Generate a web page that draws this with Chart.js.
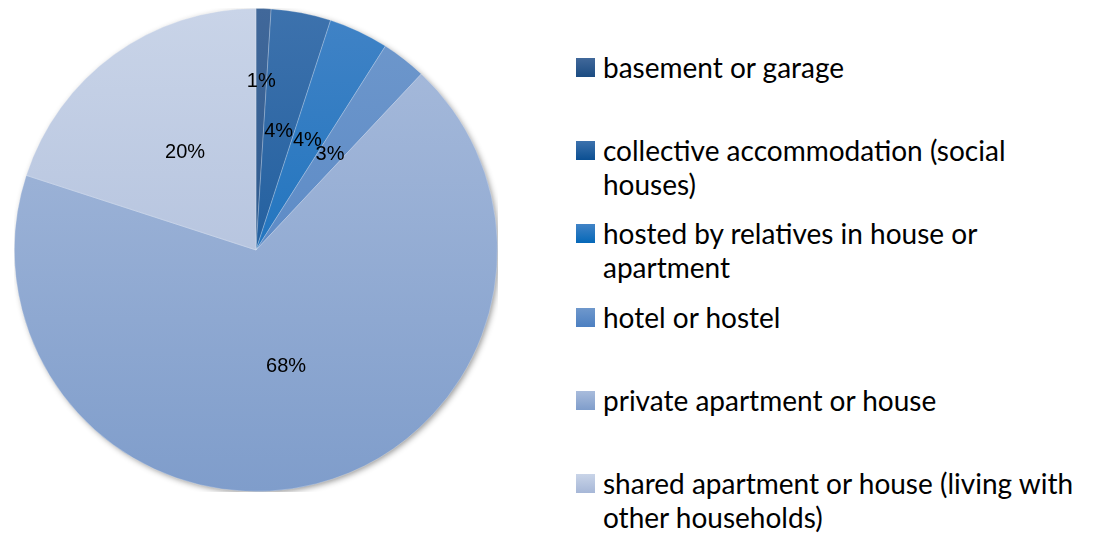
<!DOCTYPE html>
<html lang="en">
<head>
    <meta charset="UTF-8">
    <title>Accommodation</title>
    <script src="https://cdn.jsdelivr.net/npm/chart.js@4"></script>
    <style>
        body { margin: 0; background: #fff; width: 1115px; height: 537px; position: relative; overflow: hidden; }
        #pieBox { position: absolute; left: 14px; top: 8px; width: 484px; height: 484px; }
        #legend { position: absolute; left: 576px; top: 50px; font-family: Lato, "Open Sans", sans-serif; font-size: 28px; color: #000; }
        .item { position: relative; height: 83.2px; padding-left: 27px; line-height: 34px; white-space: nowrap; }
        .swatch { position: absolute; left: 0; top: 8px; width: 19px; height: 19px; }
    </style>
</head>
<body>
    <div id="pieBox"><canvas id="pie"></canvas></div>
    <div id="legend"></div>

    <script>
        const categories = [
            'basement or garage',
            'collective accommodation (social houses)',
            'hosted by relatives in house or apartment',
            'hotel or hostel',
            'private apartment or house',
            'shared apartment or house (living with other households)'
        ];
        const legendLines = [
            ['basement or garage'],
            ['collective accommodation (social', 'houses)'],
            ['hosted by relatives in house or', 'apartment'],
            ['hotel or hostel'],
            ['private apartment or house'],
            ['shared apartment or house (living with', 'other households)']
        ];
        const shares = [1, 4, 4, 3, 68, 20];

        const topColors = ['#41689a', '#3d72ad', '#4183c6', '#6f98cc', '#a9bcdc', '#c9d4e8'];
        const bottomColors = ['#1b4c82', '#0b4f92', '#0568b8', '#4c7fc1', '#7f9dcb', '#a6b7d7'];

        // legend as html so lines wrap like the original
        const legend = document.getElementById('legend');
        legendLines.forEach((lines, i) => {
            const div = document.createElement('div');
            div.className = 'item';
            div.innerHTML = `<span class="swatch" style="background: linear-gradient(to bottom, ${topColors[i]}, ${bottomColors[i]})"></span>` + lines.join('<br>');
            legend.appendChild(div);
        });

        const fillFor = (ctx) => {
            const chart = ctx.chart;
            const area = chart.chartArea;
            const i = ctx.dataIndex;
            if (!area) return topColors[i];
            const g = chart.ctx.createLinearGradient(0, area.top, 0, area.bottom);
            g.addColorStop(0, topColors[i]);
            g.addColorStop(1, bottomColors[i]);
            return g;
        };

        const shadowPlugin = {
            id: 'pieShadow',
            beforeDatasetsDraw(chart) {
                const arc = chart.getDatasetMeta(0).data[0];
                if (!arc) return;
                const c = chart.ctx;
                c.save();
                c.shadowColor = 'rgba(0,0,0,0.45)';
                c.shadowBlur = 6;
                c.shadowOffsetX = 2;
                c.shadowOffsetY = 2;
                c.fillStyle = '#8fa8d2';
                c.beginPath();
                c.arc(arc.x, arc.y, arc.outerRadius - 1, 0, Math.PI * 2);
                c.fill();
                c.restore();
            }
        };

        const labelPlugin = {
            id: 'pctLabels',
            afterDatasetsDraw(chart) {
                const c = chart.ctx;
                const meta = chart.getDatasetMeta(0);
                c.save();
                c.font = '20px "Liberation Sans", Arial, sans-serif';
                c.fillStyle = '#000';
                c.textAlign = 'center';
                c.textBaseline = 'middle';
                meta.data.forEach((arc, i) => {
                    const mid = (arc.startAngle + arc.endAngle) / 2;
                    const f = shares[i] < 2 ? 0.7 : 0.5;
                    const r = arc.outerRadius * f;
                    c.fillText(shares[i] + '%', arc.x + Math.cos(mid) * r, arc.y + Math.sin(mid) * r);
                });
                c.restore();
            }
        };

        new Chart(document.getElementById('pie'), {
            type: 'pie',
            data: {
                labels: categories,
                datasets: [{
                    data: shares,
                    backgroundColor: fillFor,
                    borderColor: 'rgba(255,255,255,0.25)',
                    borderWidth: 1
                }]
            },
            options: {
                responsive: true,
                maintainAspectRatio: false,
                animation: false,
                layout: { padding: 0 },
                plugins: {
                    legend: { display: false },
                    tooltip: { enabled: false }
                }
            },
            plugins: [shadowPlugin, labelPlugin]
        });
    </script>
</body>
</html>
